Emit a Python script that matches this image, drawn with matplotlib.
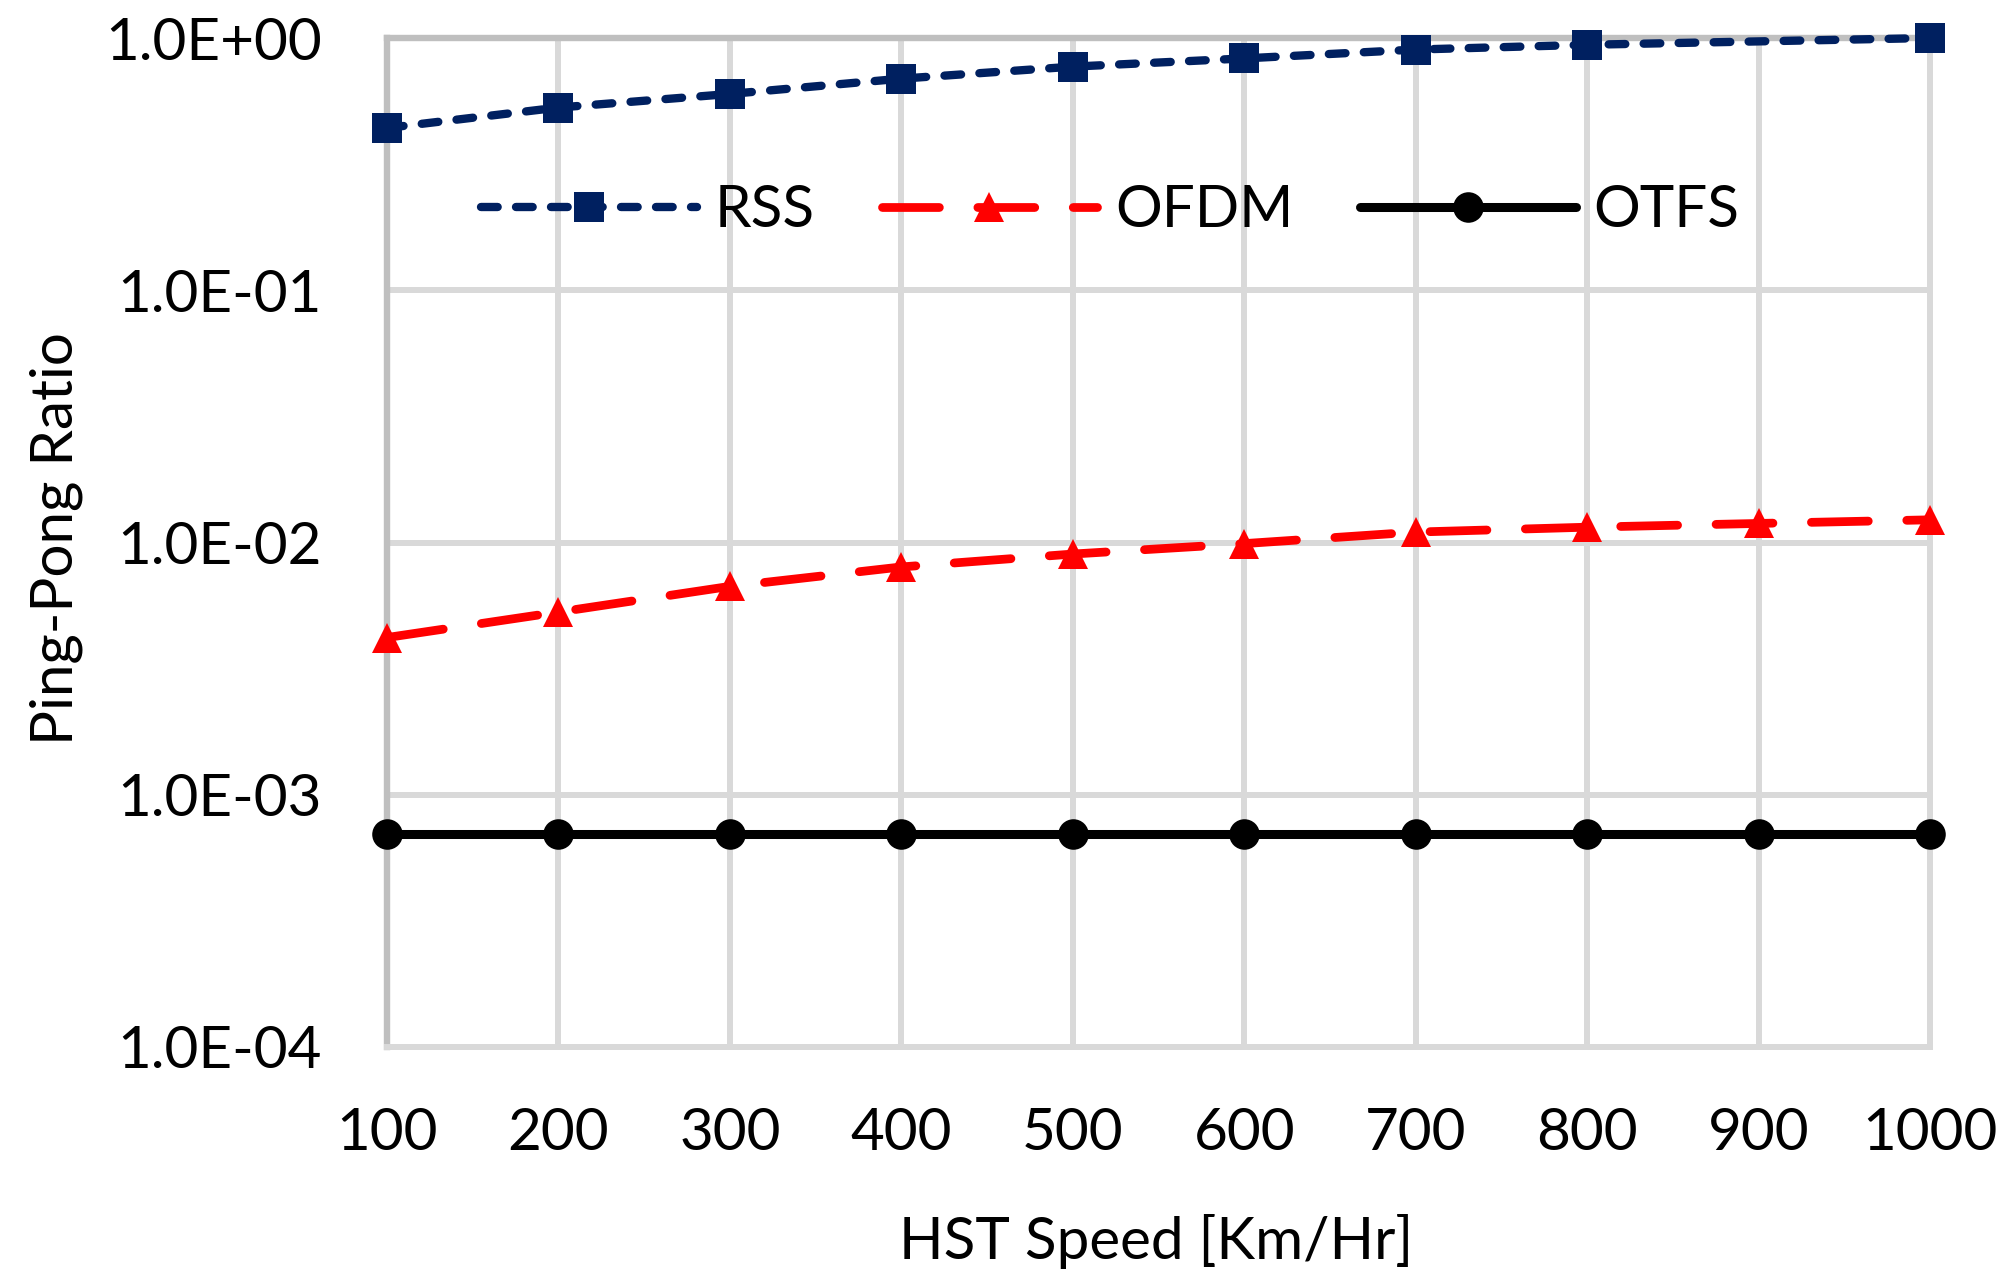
import matplotlib
matplotlib.use("Agg")
from matplotlib import pyplot as plot
from matplotlib.ticker import FixedLocator, FuncFormatter, NullLocator

#Data
speeds = [100, 200, 300, 400, 500, 600, 700, 800, 900, 1000]
#RSS has no point at 900, the line goes straight from 800 to 1000
rssSpeeds = [100, 200, 300, 400, 500, 600, 700, 800, 1000]
rssRatio = [0.44, 0.53, 0.60, 0.69, 0.77, 0.83, 0.90, 0.94, 1.0]
ofdmRatio = [0.0042, 0.0053, 0.0067, 0.0080, 0.0090, 0.0099, 0.0110, 0.0115, 0.0119, 0.0123]
otfsRatio = [7.0e-4, 7.0e-4, 7.0e-4, 7.0e-4, 7.0e-4, 7.0e-4, 7.0e-4, 7.0e-4, 7.0e-4, 7.0e-4]
yTicks = [1e-4, 1e-3, 1e-2, 1e-1, 1e0]

FONT = ["Lato", "DejaVu Sans"]
SIZE = 42
GRID = "#D9D9D9"
AXIS = "#BFBFBF"

def main():
    plot.rcParams["font.family"] = FONT
    figure = plot.figure(figsize=(20.04, 12.84), dpi=100)
    axis = figure.add_axes([387 / 2004, 1 - 1047 / 1284, 1543 / 2004, 1009 / 1284])

    axis.set_yscale("log")
    axis.set_xlim(100, 1000)
    axis.set_ylim(1e-4, 1)

    axis.xaxis.set_major_locator(FixedLocator(speeds))
    axis.yaxis.set_major_locator(FixedLocator(yTicks))
    axis.yaxis.set_minor_locator(NullLocator())
    axis.yaxis.set_major_formatter(FuncFormatter(lambda v, p: f"{v:.1E}"))
    axis.tick_params(axis="both", length=0, labelsize=SIZE, labelcolor="black")
    axis.tick_params(axis="x", pad=43)
    axis.tick_params(axis="y", pad=47)

    axis.grid(True, color=GRID, linewidth=4.3)
    axis.set_axisbelow(True)
    for side in ("right", "bottom"):
        axis.spines[side].set_color(GRID)
        axis.spines[side].set_linewidth(4.3)
    for side in ("left", "top"):
        axis.spines[side].set_color(AXIS)
        axis.spines[side].set_linewidth(4.6)

    axis.plot(rssSpeeds, rssRatio, color="#002060", linewidth=6.0, dashes=(2.0, 2.2),
              dash_capstyle="round", marker="s", markersize=22, markeredgewidth=0,
              label="RSS", clip_on=False, zorder=4)
    axis.plot(speeds, ofdmRatio, color="#FF0000", linewidth=6.3, dashes=(6.5, 4.4),
              dash_capstyle="round", marker="^", markersize=22, markeredgewidth=0,
              label="OFDM", clip_on=False, zorder=4)
    axis.plot(speeds, otfsRatio, color="black", linewidth=6.5, solid_capstyle="round",
              marker="o", markersize=22, markeredgewidth=0,
              label="OTFS", clip_on=False, zorder=4)

    axis.legend(loc="center left", bbox_to_anchor=(94 / 1543, 0.829), ncol=3,
                frameon=False, fontsize=SIZE, borderpad=0, borderaxespad=0,
                handlelength=3.7, handletextpad=0.3, columnspacing=1.15, numpoints=1)

    figure.text(1156 / 2004, 1 - 1259 / 1284, "HST Speed [Km/Hr]", fontsize=SIZE,
                ha="center", va="baseline")
    figure.text(56 / 2004, 1 - 539 / 1284, "Ping-Pong Ratio", fontsize=SIZE,
                ha="center", va="center", rotation=90)

    figure.savefig("out.png", dpi=100)

if (__name__ == "__main__"):
    main()
